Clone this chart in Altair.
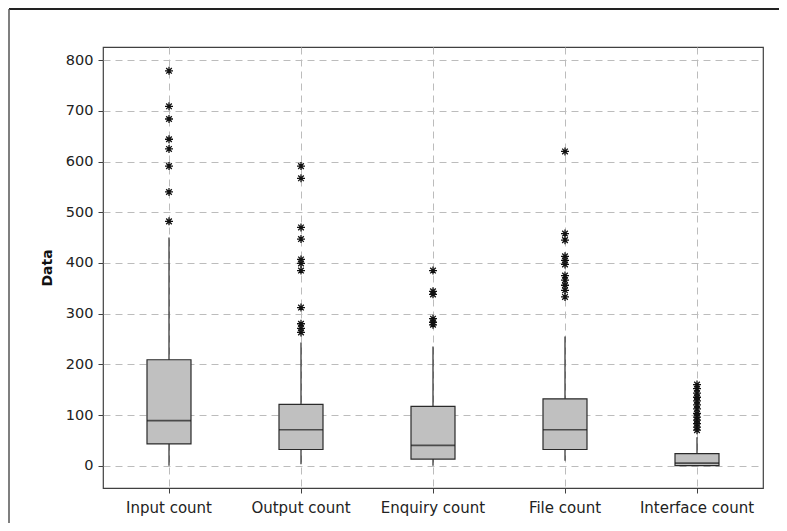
import altair as alt
import pandas as pd

categories = ["Input count", "Output count", "Enquiry count", "File count", "Interface count"]
whisker_low = [0, 3, 0, 10, 0]
q1 = [43, 32, 13, 32, 0]
median = [89, 71, 40, 71, 5]
q3 = [209, 121, 117, 132, 24]
whisker_high = [450, 243, 235, 255, 56]

outliers_input = [779, 709, 684, 644, 625, 591, 540, 482]
outliers_output = [591, 567, 470, 447, 407, 399, 385, 312, 280, 271, 263]
outliers_enquiry = [385, 344, 338, 290, 283, 278]
outliers_file = [620, 458, 445, 413, 405, 397, 375, 366, 356, 346, 333]
outliers_interface = [160, 152, 143, 135, 128, 120, 112, 103, 96, 90, 83, 76, 70]

y_ticks = [0, 100, 200, 300, 400, 500, 600, 700, 800]

box_df = pd.DataFrame({
    "cat": categories,
    "lo": whisker_low,
    "q1": q1,
    "med": median,
    "q3": q3,
    "hi": whisker_high,
})

out_rows = []
for c, vals in zip(categories, [outliers_input, outliers_output, outliers_enquiry,
                                outliers_file, outliers_interface]):
    for v in vals:
        out_rows.append({"cat": c, "val": v})
out_df = pd.DataFrame(out_rows)

FONT = "DejaVu Sans"
GRID = "#bcbcbc"
FRAME = "#404040"

x_enc = alt.X(
    "cat:N",
    sort=categories,
    scale=alt.Scale(domain=categories, paddingInner=0, paddingOuter=0),
    axis=alt.Axis(
        title=None, labelAngle=0, bandPosition=0.5, grid=True,
        gridDash=[7, 5], gridColor=GRID, gridWidth=1,
        tickColor=FRAME, tickSize=5, domain=False,
        labelFont=FONT, labelFontSize=15, labelColor="#222222", labelPadding=7,
    ),
)

y_scale = alt.Scale(domain=[-44, 826], nice=False, zero=False)
y_axis = alt.Axis(
    title="Data", values=y_ticks, grid=True, gridDash=[7, 5], gridColor=GRID,
    gridWidth=1, tickColor=FRAME, tickSize=5, domain=False,
    labelFont=FONT, labelFontSize=14.5, labelColor="#222222", labelPadding=5,
    titleFont=FONT, titleFontSize=14, titleFontWeight="bold", titleColor="#111111",
    titlePadding=11,
)


def y_enc(field):
    return alt.Y(f"{field}:Q", scale=y_scale, axis=y_axis)


base = alt.Chart(box_df)

whiskers = base.mark_rule(color="#2a2a2a", strokeWidth=1.2).encode(
    x=x_enc, y=y_enc("lo"), y2="hi"
)
boxes = base.mark_bar(size=44, color="#c0c0c0", stroke="#2a2a2a", strokeWidth=1.2).encode(
    x=x_enc, y=y_enc("q1"), y2="q3"
)
medians = base.mark_tick(size=44, thickness=1.6, color="#1a1a1a").encode(
    x=x_enc, y=y_enc("med")
)
asterisk = "M-1,0L1,0M0,-1L0,1M-0.7,-0.7L0.7,0.7M-0.7,0.7L0.7,-0.7"
points = alt.Chart(out_df).mark_point(
    shape=asterisk, size=64, filled=False, color="#111111", strokeWidth=1.3, opacity=1
).encode(x=x_enc, y=y_enc("val"))

# outer window frame (decoration): only the top and left edges are visible in the page
frame_top = alt.Chart(box_df.head(1)).mark_rule(color="#222222", strokeWidth=2).encode(
    x=alt.value(-94), x2=alt.value(676), y=alt.value(-38)
)
frame_left = alt.Chart(box_df.head(1)).mark_rule(color="#555555", strokeWidth=1.5).encode(
    x=alt.value(-94), y=alt.value(-38), y2=alt.value(476)
)

chart = alt.layer(frame_top, frame_left, whiskers, boxes, medians, points).properties(
    width=660,
    height=441,
    autosize=alt.AutoSizeParams(type="none"),
    padding={"left": 95, "top": 39, "right": 16, "bottom": 35},
    background="white",
).configure_view(stroke=FRAME, strokeWidth=1.2)

chart.save("out.html", embed_options={"renderer": "svg", "actions": False})
